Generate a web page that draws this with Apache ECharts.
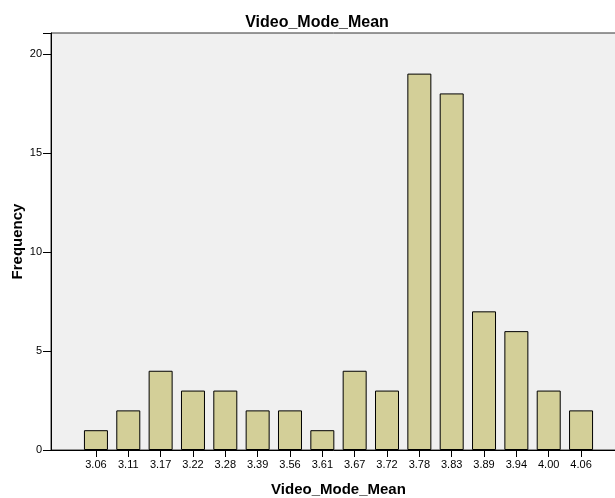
<!DOCTYPE html>
<html><head><meta charset="utf-8">
<script src="https://cdn.jsdelivr.net/npm/echarts@6/dist/echarts.min.js"></script>
<style>html,body{margin:0;padding:0;background:#fff}#c{width:615px;height:498px}</style>
</head><body><div id="c"></div>
<script>
const categories = ['3.06','3.11','3.17','3.22','3.28','3.39','3.56','3.61','3.67','3.72','3.78','3.83','3.89','3.94','4.00','4.06'];
const frequencies = [1,2,4,3,3,2,2,1,4,3,19,18,7,6,3,2];
const yTicks = [0,5,10,15,20];

const positions = categories.map((c,i)=>i);
const chart = echarts.init(document.getElementById('c'), null, {renderer:'canvas'});
const font = '"Liberation Sans", Arial, sans-serif';
chart.setOption({
  animation:false,
  backgroundColor:'#ffffff',
  title:{text:'Video_Mode_Mean', left:312, top:10, textAlign:'center',
    textStyle:{fontFamily:font, fontSize:16, fontWeight:'bold', color:'#000'}},
  grid:{left:51, top:33, width:575, height:417, containLabel:false, outerBoundsMode:'none',
    show:true, backgroundColor:'#f0f0f0', borderColor:'#333', borderWidth:1},
  xAxis:{type:'value', min:-1.39, max:16.39,
    name:'Video_Mode_Mean', nameLocation:'middle', nameGap:32,
    nameTextStyle:{fontFamily:font, fontSize:15, fontWeight:'bold', color:'#000'},
    axisLine:{show:true, onZero:false, lineStyle:{color:'#000', width:1}},
    axisTick:{show:true, length:7, customValues:positions, lineStyle:{color:'#000'}},
    axisLabel:{show:true, customValues:positions, margin:9, fontFamily:font, fontSize:11, color:'#000',
      formatter:v=>categories[Math.round(v)]},
    splitLine:{show:false}},
  yAxis:{type:'value', min:0, max:21.05, interval:5,
    name:'Frequency', nameLocation:'middle', nameGap:26, nameMoveOverlap:false,
    nameTextStyle:{fontFamily:font, fontSize:15, fontWeight:'bold', color:'#000'},
    axisLine:{show:true, onZero:false, lineStyle:{color:'#000', width:1}},
    axisTick:{show:true, length:8, lineStyle:{color:'#000'}},
    axisLabel:{margin:9, fontFamily:font, fontSize:11, color:'#000',
      formatter:v=>yTicks.includes(v)?String(v):''},
    splitLine:{show:false}},
  series:[{type:'bar', barWidth:24,
    data:positions.map((p,i)=>[p, frequencies[i]]),
    itemStyle:{color:'#d3cf98', borderColor:'#000', borderWidth:1}}]
});
</script></body></html>
